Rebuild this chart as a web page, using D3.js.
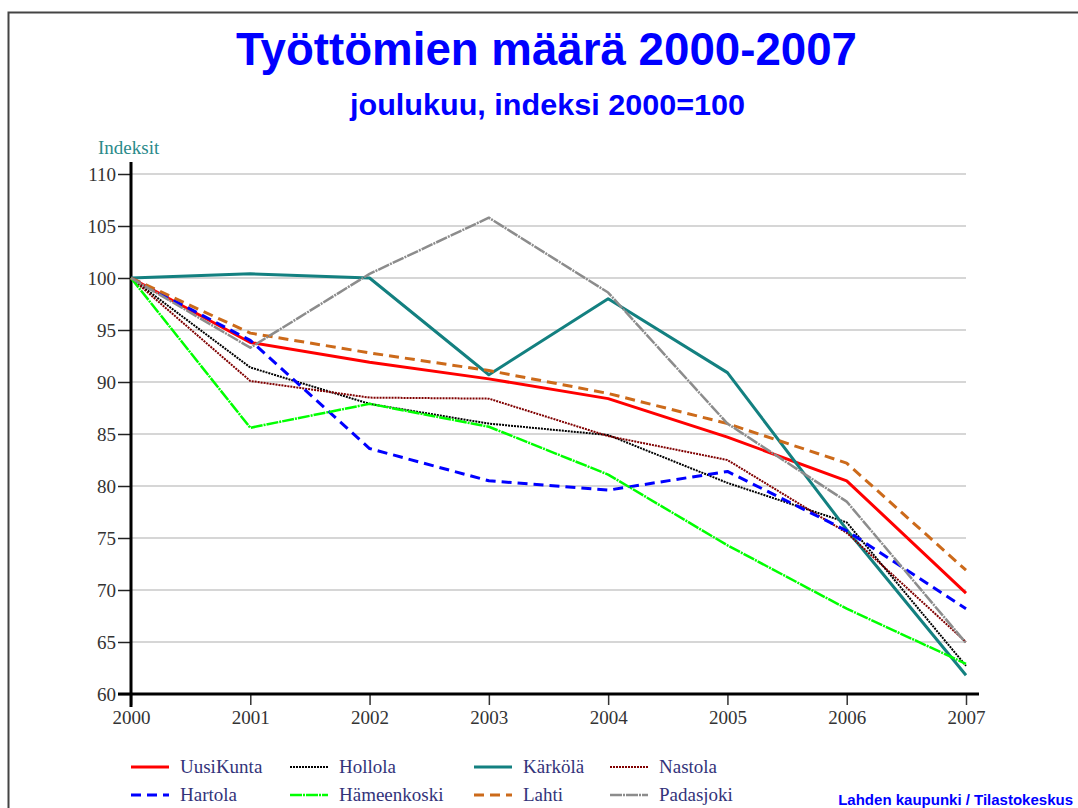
<!DOCTYPE html>
<html>
<head>
<meta charset="utf-8">
<script src="https://cdn.jsdelivr.net/npm/d3@7"></script>
<style>
  body { margin: 0; background: #fff; }
  svg { display: block; }
</style>
</head>
<body>
<div id="chart"></div>
<script>
// Työttömien määrä 2000-2007, indeksi 2000=100
var years = [2000, 2001, 2002, 2003, 2004, 2005, 2006, 2007];
var yTicks = [60, 65, 70, 75, 80, 85, 90, 95, 100, 105, 110];

var names = ["UusiKunta", "Hollola", "Kärkölä", "Nastola", "Hartola", "Hämeenkoski", "Lahti", "Padasjoki"];

var uusiKunta   = [100, 93.8, 91.9, 90.3, 88.4, 84.7, 80.5, 69.7];
var hollola     = [100, 91.4, 87.9, 86.0, 84.9, 80.3, 76.5, 62.7];
var karkola     = [100, 100.4, 100.0, 90.7, 98.0, 90.9, 75.8, 61.8];
var nastola     = [100, 90.1, 88.5, 88.4, 84.8, 82.5, 75.5, 65.0];
var hartola     = [100, 94.0, 83.6, 80.5, 79.6, 81.4, 75.7, 68.2];
var hameenkoski = [100, 85.6, 87.9, 85.7, 81.1, 74.3, 68.2, 62.9];
var lahti       = [100, 94.7, 92.8, 91.1, 88.9, 86.0, 82.2, 71.9];
var padasjoki   = [100, 93.3, 100.4, 105.8, 98.6, 86.0, 78.5, 64.9];

var values = [uusiKunta, hollola, karkola, nastola, hartola, hameenkoski, lahti, padasjoki];

// line styles per series
var styles = [
  {color: "#ff0000", width: 3,   dash: null},
  {color: "#000000", width: 2,   dash: "2,1"},
  {color: "#138080", width: 3,   dash: null},
  {color: "#800000", width: 2,   dash: "2,1"},
  {color: "#0000ff", width: 3,   dash: "10,6"},
  {color: "#00ff00", width: 2.5, dash: "12,1,2,1"},
  {color: "#cc6a1a", width: 3,   dash: "10,6"},
  {color: "#8c8c8c", width: 2.5, dash: "12,1,2,1"}
];

var width = 1078, height = 808;
var svg = d3.select("#chart").append("svg")
    .attr("width", width)
    .attr("height", height);

// page frame
svg.append("path")
    .attr("d", "M8.5," + height + "V12.5H" + width)
    .attr("fill", "none")
    .attr("stroke", "#444")
    .attr("stroke-width", 2);

var sans = "Arial, 'Liberation Sans', sans-serif";
var serif = "'Liberation Serif', 'Times New Roman', serif";

// titles (original uses a tall, narrow bold face)
svg.append("text")
    .attr("x", 236).attr("y", 65)
    .attr("textLength", 621)
    .attr("lengthAdjust", "spacingAndGlyphs")
    .style("font-family", sans)
    .style("font-weight", "bold")
    .style("font-size", "47px")
    .attr("fill", "#0000ff")
    .text("Työttömien määrä 2000-2007");

svg.append("text")
    .attr("x", 350).attr("y", 115)
    .attr("textLength", 395)
    .attr("lengthAdjust", "spacingAndGlyphs")
    .style("font-family", sans)
    .style("font-weight", "bold")
    .style("font-size", "30px")
    .attr("fill", "#0000ff")
    .text("joulukuu, indeksi 2000=100");

svg.append("text")
    .attr("x", 98).attr("y", 154)
    .style("font-family", serif)
    .style("font-size", "19px")
    .attr("fill", "#2a8a8a")
    .text("Indeksit");

var x = d3.scaleLinear().domain([2000, 2007]).range([131, 966]);
var y = d3.scaleLinear().domain([60, 110]).range([694, 174]);

// grid
svg.append("g")
  .selectAll("line")
  .data(yTicks.filter(function(d) { return d > 60; }))
  .enter().append("line")
    .attr("x1", x(2000)).attr("x2", x(2007))
    .attr("y1", function(d) { return y(d); })
    .attr("y2", function(d) { return y(d); })
    .attr("stroke", "#c8c8c8")
    .attr("stroke-width", 1.5);

// y axis
var yAxis = svg.append("g")
    .attr("transform", "translate(" + x(2000) + ",0)")
    .call(d3.axisLeft(y).tickValues(yTicks).tickSize(13).tickPadding(2));
yAxis.select(".domain").remove();
yAxis.selectAll(".tick line").attr("stroke", "#222").attr("stroke-width", 1.5);
yAxis.selectAll("text")
    .style("font-family", serif)
    .style("font-size", "19px")
    .attr("fill", "#333");

// x axis
var xAxis = svg.append("g")
    .attr("transform", "translate(0," + y(60) + ")")
    .call(d3.axisBottom(x).tickValues(years).tickFormat(d3.format("d")).tickSize(11).tickPadding(6));
xAxis.select(".domain").remove();
xAxis.selectAll(".tick line").attr("stroke", "#333").attr("stroke-width", 1.5);
xAxis.selectAll("text")
    .style("font-family", serif)
    .style("font-size", "19px")
    .attr("fill", "#333");

// axis lines
svg.append("line")
    .attr("x1", x(2000)).attr("x2", x(2000))
    .attr("y1", 162).attr("y2", y(60) + 13)
    .attr("stroke", "#000").attr("stroke-width", 3);
svg.append("line")
    .attr("x1", 118).attr("x2", 979)
    .attr("y1", y(60)).attr("y2", y(60))
    .attr("stroke", "#000").attr("stroke-width", 3);

// series lines
var line = d3.line()
    .x(function(d, i) { return x(years[i]); })
    .y(function(d) { return y(d); });

svg.append("g")
  .selectAll("path")
  .data(values)
  .enter().append("path")
    .attr("d", line)
    .attr("fill", "none")
    .attr("stroke", function(d, i) { return styles[i].color; })
    .attr("stroke-width", function(d, i) { return styles[i].width; })
    .attr("stroke-dasharray", function(d, i) { return styles[i].dash; })
    .attr("stroke-linejoin", "round");

// legend: 4 columns, 2 rows
var colX = [131, 290, 474, 610];
var legend = svg.append("g")
  .selectAll("g")
  .data(names)
  .enter().append("g")
    .attr("transform", function(d, i) {
      return "translate(" + colX[i % 4] + "," + (i < 4 ? 767 : 795) + ")";
    });

legend.append("line")
    .attr("x1", 0).attr("x2", 38)
    .attr("stroke", function(d, i) { return styles[i].color; })
    .attr("stroke-width", function(d, i) { return styles[i].width; })
    .attr("stroke-dasharray", function(d, i) { return styles[i].dash; });

legend.append("text")
    .attr("x", 49).attr("y", 6)
    .style("font-family", serif)
    .style("font-size", "19px")
    .attr("fill", "#33337a")
    .text(function(d) { return d; });

// source
svg.append("text")
    .attr("x", 1073).attr("y", 805)
    .attr("text-anchor", "end")
    .style("font-family", sans)
    .style("font-weight", "bold")
    .style("font-size", "15px")
    .attr("fill", "#0000ff")
    .text("Lahden kaupunki / Tilastokeskus");
</script>
</body>
</html>
